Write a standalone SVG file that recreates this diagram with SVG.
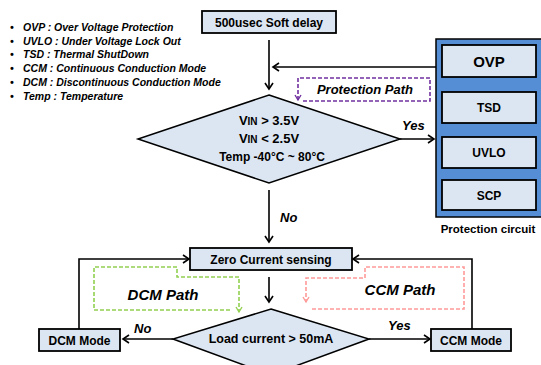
<svg xmlns="http://www.w3.org/2000/svg" width="541" height="365" viewBox="0 0 541 365">
<defs>
<marker id="arr" markerWidth="10" markerHeight="10" refX="8" refY="5" orient="auto" markerUnits="userSpaceOnUse">
<path d="M2,1 L8,5 L2,9" fill="none" stroke="#000" stroke-width="1.6"/>
</marker>
<marker id="arrP" markerWidth="8" markerHeight="8" refX="6" refY="4" orient="auto" markerUnits="userSpaceOnUse">
<path d="M1,1 L6,4 L1,7" fill="none" stroke="#7030a0" stroke-width="1.4"/>
</marker>
<marker id="arrG" markerWidth="8" markerHeight="8" refX="6" refY="4" orient="auto" markerUnits="userSpaceOnUse">
<path d="M1,1 L6,4 L1,7" fill="none" stroke="#92d050" stroke-width="1.4"/>
</marker>
<marker id="arrR" markerWidth="8" markerHeight="8" refX="6" refY="4" orient="auto" markerUnits="userSpaceOnUse">
<path d="M1,1 L6,4 L1,7" fill="none" stroke="#ff9999" stroke-width="1.4"/>
</marker>
</defs>
<style>
text{font-family:"Liberation Sans",Arial,sans-serif;font-weight:bold;fill:#000}
.box{fill:#dce6f2;stroke:#000;stroke-width:1.8}
.dia{fill:#dce6f2;stroke:#000;stroke-width:1.5}
.line{fill:none;stroke:#000;stroke-width:1.6}
.lg{font-size:10.5px;font-style:italic}
.lbl{font-size:13px;font-style:italic}
.path{font-size:15px;font-style:italic}
.bt{font-size:12px}
.dash{fill:none;stroke-width:1.6;stroke-dasharray:4,2}
</style>
<rect width="541" height="365" fill="#fff"/>

<g id="legend">
<text class="lg" x="10" y="31">•</text><text class="lg" x="23" y="31">OVP : Over Voltage Protection</text>
<text class="lg" x="10" y="45">•</text><text class="lg" x="23" y="45">UVLO : Under Voltage Lock Out</text>
<text class="lg" x="10" y="58">•</text><text class="lg" x="23" y="58">TSD : Thermal ShutDown</text>
<text class="lg" x="10" y="72">•</text><text class="lg" x="23" y="72">CCM : Continuous Conduction Mode</text>
<text class="lg" x="10" y="86">•</text><text class="lg" x="23" y="86">DCM : Discontinuous Conduction Mode</text>
<text class="lg" x="10" y="100">•</text><text class="lg" x="23" y="100">Temp : Temperature</text>
</g>

<g id="connectors">
<path class="line" d="M269,40 V89" marker-end="url(#arr)"/>
<path class="line" d="M436,67 H273" marker-end="url(#arr)"/>
<path class="line" d="M400,139 H434" marker-end="url(#arr)"/>
<path class="line" d="M269,190 V242" marker-end="url(#arr)"/>
<path class="line" d="M269,277 V302" marker-end="url(#arr)"/>
<path class="line" d="M173,339 H123" marker-end="url(#arr)"/>
<path class="line" d="M369,339 H430" marker-end="url(#arr)"/>
<path class="line" d="M79,329 V259 H189" marker-end="url(#arr)"/>
<path class="line" d="M472,329 V259 H353" marker-end="url(#arr)"/>
<path class="dash" stroke="#7030a0" d="M303,101 H430 V78 H298 V100" marker-end="url(#arrP)"/>
<path class="dash" stroke="#92d050" d="M230,310 H94 V267 H177 V277 H239 V312" marker-end="url(#arrG)"/>
<path class="dash" stroke="#ff9999" d="M312,309 H464 V267 H365 V278 H306 V302" marker-end="url(#arrR)"/>
<text class="lbl" x="402" y="130">Yes</text>
<text class="lbl" x="280" y="222">No</text>
<text class="lbl" x="134" y="333">No</text>
<text class="lbl" x="388" y="330">Yes</text>
<text class="lbl" x="365" y="94" text-anchor="middle" font-size="12">Protection Path</text>
<text class="path" x="163" y="300" text-anchor="middle">DCM Path</text>
<text class="path" x="400" y="295" text-anchor="middle">CCM Path</text>
</g>

<g id="soft-delay">
<rect class="box" x="202" y="11" width="134" height="22"/>
<text class="bt" x="269" y="27" text-anchor="middle">500usec Soft delay</text>
</g>

<g id="decision1">
<polygon class="dia" points="269,95 400,139 269,183 138,139"/>
<text x="269" y="125" text-anchor="middle" font-size="13">V<tspan font-size="10">IN</tspan> &gt; 3.5V</text>
<text x="269" y="143" text-anchor="middle" font-size="13">V<tspan font-size="10">IN</tspan> &lt; 2.5V</text>
<text x="272" y="161" text-anchor="middle" font-size="12">Temp -40°C ~ 80°C</text>
</g>

<g id="protection-circuit">
<rect x="436" y="39" width="108" height="178" fill="#558ed5" stroke="#000" stroke-width="1.5"/>
<rect class="box" x="442" y="45" width="94" height="32"/>
<text x="489" y="67" text-anchor="middle" font-size="15">OVP</text>
<rect class="box" x="442" y="92" width="94" height="31"/>
<text x="489" y="112" text-anchor="middle" font-size="12">TSD</text>
<rect class="box" x="442" y="137" width="94" height="31"/>
<text x="489" y="157" text-anchor="middle" font-size="12">UVLO</text>
<rect class="box" x="442" y="180" width="94" height="30"/>
<text x="489" y="200" text-anchor="middle" font-size="12">SCP</text>
<text x="488" y="233" text-anchor="middle" font-size="11.5">Protection circuit</text>
</g>

<g id="zero-current">
<rect class="box" x="190" y="248" width="162" height="22"/>
<text class="bt" x="271" y="264" text-anchor="middle">Zero Current sensing</text>
</g>

<g id="decision2">
<polygon class="dia" points="271,309 369,339 271,375 173,339"/>
<text x="271" y="343" text-anchor="middle" font-size="12.5">Load current &gt; 50mA</text>
</g>

<g id="dcm-mode">
<rect class="box" x="39" y="329" width="81" height="22"/>
<text class="bt" x="79.5" y="345" text-anchor="middle">DCM Mode</text>
</g>

<g id="ccm-mode">
<rect class="box" x="431" y="329" width="80" height="22"/>
<text class="bt" x="471" y="345" text-anchor="middle">CCM Mode</text>
</g>
</svg>
